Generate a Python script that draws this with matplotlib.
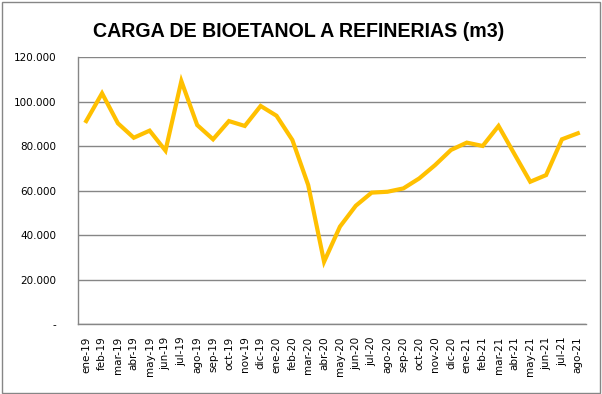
import matplotlib
matplotlib.use('Agg')
import matplotlib.pyplot as plt
from matplotlib.patches import Rectangle
from matplotlib.ticker import FuncFormatter

# datos mensuales (m3)
meses = ['ene-19', 'feb-19', 'mar-19', 'abr-19', 'may-19', 'jun-19', 'jul-19', 'ago-19',
         'sep-19', 'oct-19', 'nov-19', 'dic-19', 'ene-20', 'feb-20', 'mar-20', 'abr-20',
         'may-20', 'jun-20', 'jul-20', 'ago-20', 'sep-20', 'oct-20', 'nov-20', 'dic-20',
         'ene-21', 'feb-21', 'mar-21', 'abr-21', 'may-21', 'jun-21', 'jul-21', 'ago-21']
carga = [91300, 103800, 90300, 83800, 87000, 78000, 109300, 89500,
         83100, 91300, 89100, 98100, 93700, 82800, 62500, 28000,
         43800, 53200, 59100, 59500, 61000, 65500, 71500, 78300,
         81600, 80100, 89100, 76500, 64000, 67000, 83100, 85800]
y_ticks = [0, 20000, 40000, 60000, 80000, 100000, 120000]

fig = plt.figure(figsize=(6.02, 3.94), dpi=100)
ax = fig.add_axes([0.1300, 0.1777, 0.8430, 0.6769])

x = list(range(len(meses)))
ax.plot(x, carga, color='#FFC000', linewidth=3.0, solid_joinstyle='miter')

ax.set_xlim(-0.5, len(meses) - 0.5)
ax.set_ylim(0, 120000)
ax.set_yticks(y_ticks)
ax.yaxis.set_major_formatter(FuncFormatter(
    lambda v, p: '-' if v == 0 else f'{int(v):,}'.replace(',', '.')))
ax.set_xticks(x)
ax.set_xticklabels(meses, rotation=90)

ax.grid(axis='y', color='#868686', linewidth=1)
ax.set_axisbelow(True)
for s in ['top', 'right']:
    ax.spines[s].set_visible(False)
for s in ['left', 'bottom']:
    ax.spines[s].set_color('#868686')
    ax.spines[s].set_linewidth(1)
ax.tick_params(axis='both', length=0, labelsize=7.5, colors='black')
ax.tick_params(axis='y', pad=16)
ax.tick_params(axis='x', pad=9)

fig.text(0.496, 0.921, 'CARGA DE BIOETANOL A REFINERIAS (m3)',
         ha='center', va='center', fontsize=14.1, fontweight='bold',
         family=['Liberation Sans', 'DejaVu Sans'])

fig.patches.append(Rectangle((0.003, 0.003), 0.994, 0.992, transform=fig.transFigure,
                             fill=False, edgecolor='#868686', linewidth=1))

fig.savefig('out.png', dpi=100)
